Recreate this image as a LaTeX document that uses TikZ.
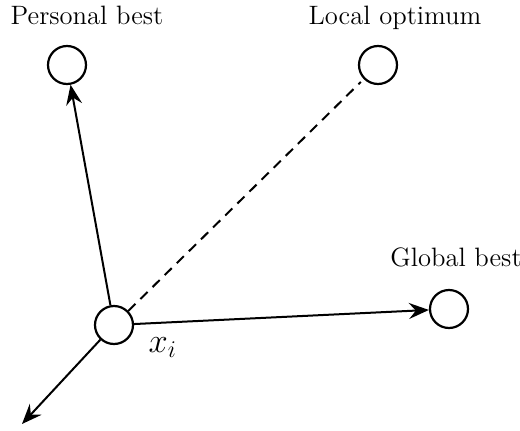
\documentclass[tikz,border=0pt]{standalone}
\usepackage{amsmath}
\usepackage{tikz}
\usetikzlibrary{positioning,arrows.meta}
\tikzset{
  particle/.style={draw,circle,line width=1.1pt,minimum size=19pt,inner sep=0pt},
  lbl/.style={inner sep=0pt,text depth=0pt,font=\fontsize{13.3}{15}\selectfont},
  move/.style={-{Stealth[length=10pt,width=8pt,inset=3.5pt]},line width=1pt},
}

\begin{document}
\begin{tikzpicture}[x=0.5pt,y=0.5pt]
  \useasboundingbox (0,0) rectangle (520,430);
  % particles
  \node[particle] (xi) at (114,105) {};
  \node[particle] (pb) at (67,365) {};
  \node[particle] (lo) at (378,365) {};
  \node[particle] (gb) at (449,121) {};
  \coordinate (away) at (22,6);
  % labels
  \node[lbl,above=10pt of pb,xshift=10pt] (pbl) {Personal best};
  \node[lbl,above=10pt of lo,xshift=8.5pt] (lol) {Local optimum};
  \node[lbl,above=11pt of gb,xshift=3.5pt] (gbl) {Global best};
  \node[inner sep=0pt,font=\fontsize{17}{19}\selectfont,below right=-1pt and 10pt of xi] (xil) {$x_i$};
  % moves
  \draw[move] (xi) -- (pb);
  \draw[move] (xi) -- (gb);
  \draw[move] (xi) -- (away);
  \draw[line width=1pt,dash pattern=on 5pt off 3.5pt,shorten >=2pt] (xi) -- (lo);
\end{tikzpicture}
\end{document}
